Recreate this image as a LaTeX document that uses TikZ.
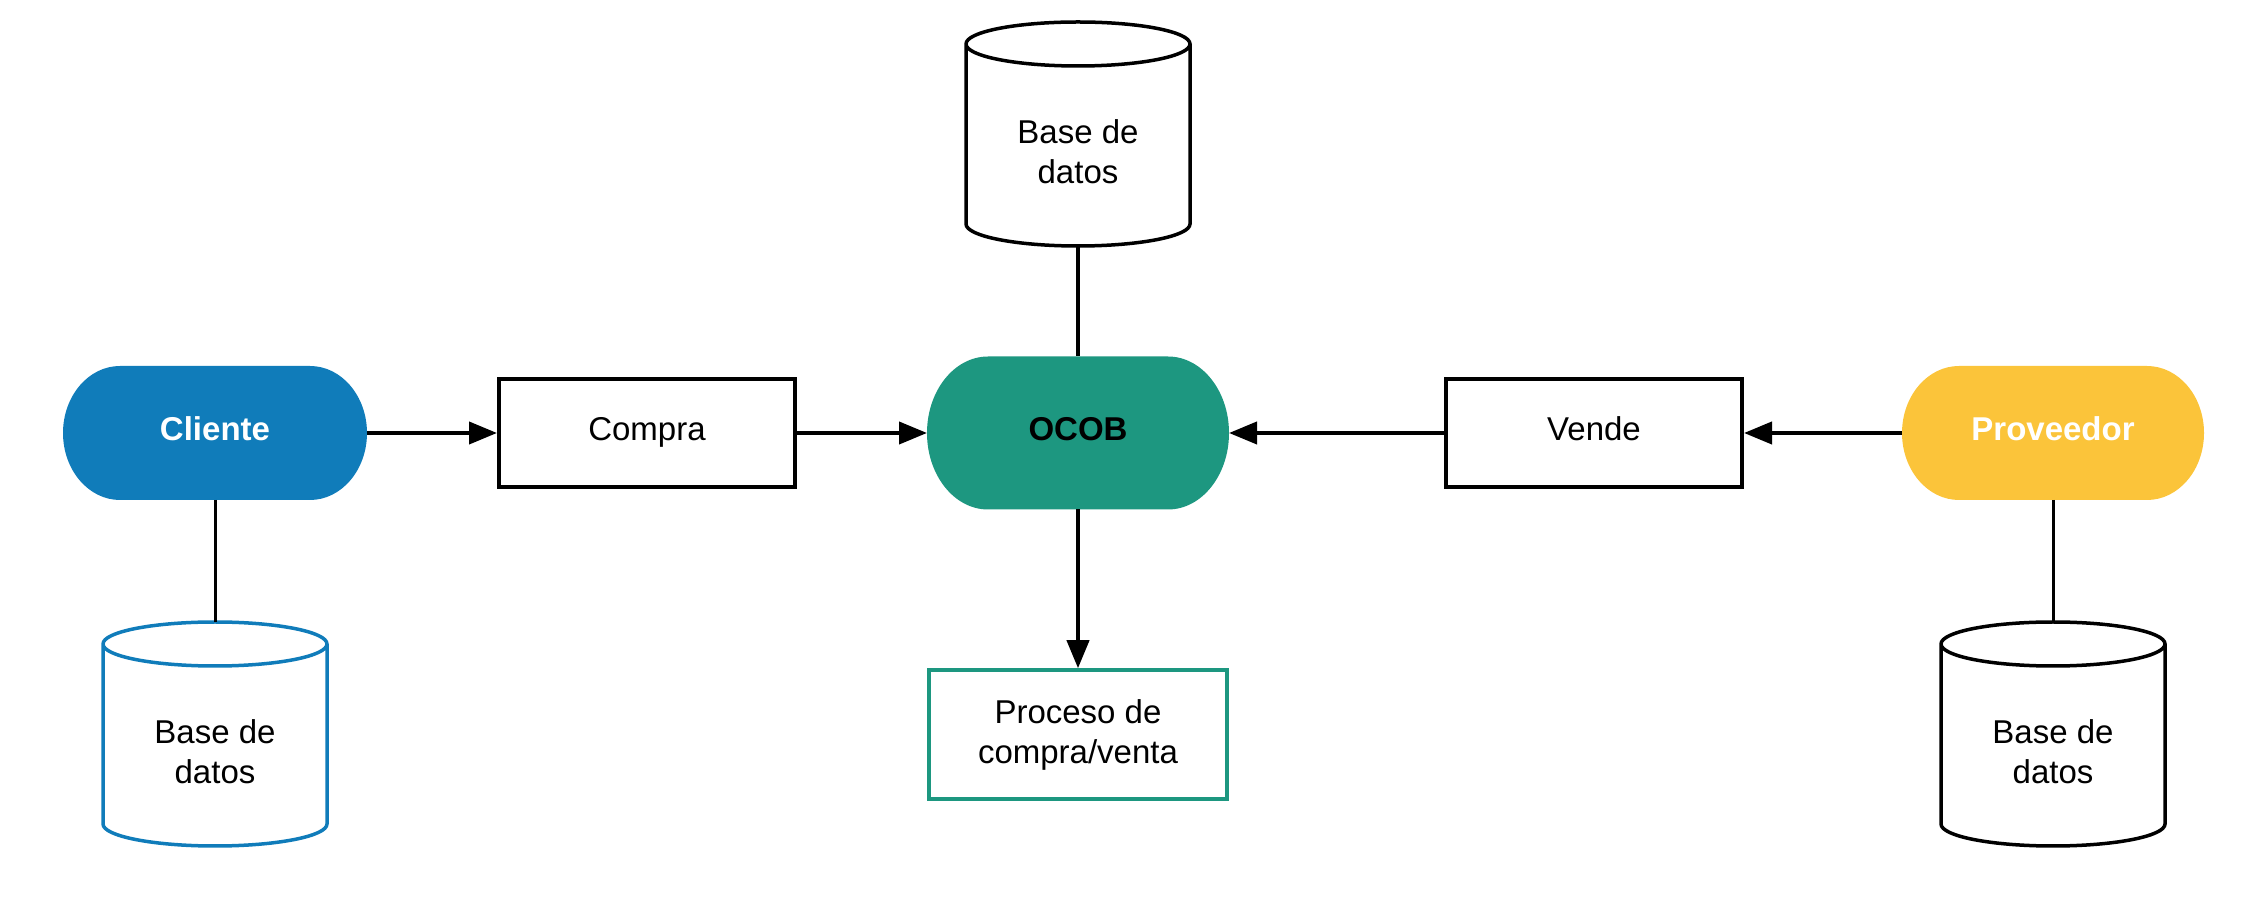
\documentclass[tikz,border=0pt]{standalone}
\usepackage{fontspec}
\setmainfont{Liberation Sans}
\usetikzlibrary{arrows.meta,calc,backgrounds}
\definecolor{cblue}{RGB}{16,124,186}
\definecolor{cgreen}{RGB}{29,151,128}
\definecolor{cyellow}{RGB}{251,196,58}
\newcommand{\stadfill}[3]{%
  \begin{scope}[on background layer]
  \fill[#2] let \p1=(#1.south west), \p2=(#1.north east), \n1={(\y2-\y1)/2} in
    (\x1+#3pt,\y2) -- (\x2-#3pt,\y2)
    arc[start angle=90,end angle=-90,x radius=#3pt,y radius=\n1]
    -- (\x1+#3pt,\y1)
    arc[start angle=270,end angle=90,x radius=#3pt,y radius=\n1] -- cycle;
  \end{scope}}
\newcommand{\dbdraw}[2]{%
  \draw[#2, line width=3.5pt] let \p1=(#1.south west), \p2=(#1.north east), \n1={(\x2-\x1)/2} in
    (\x1,\y2-22pt) arc[start angle=180,end angle=360,x radius=\n1,y radius=22pt]
    arc[start angle=0,end angle=180,x radius=\n1,y radius=22pt]
    -- (\x1,\y1+22pt) arc[start angle=180,end angle=360,x radius=\n1,y radius=22pt]
    -- (\x2,\y2-22pt);}
\begin{document}
\begin{tikzpicture}[x=1pt,y=1pt,
  every node/.style={inner sep=0pt, outer sep=0pt, font=\fontsize{33}{40}\selectfont, align=center},
  stadnode/.style={rectangle, minimum width=304pt, minimum height=134pt, text height=24pt, text depth=8pt, font=\fontsize{33}{40}\selectfont\bfseries},
  boxnode/.style={rectangle, draw=black, line width=4pt, outer sep=2pt, minimum width=296pt, minimum height=108pt, text height=24pt, text depth=8pt},
  procnode/.style={rectangle, draw=cgreen, line width=3.5pt, outer sep=1.75pt, minimum width=298pt, minimum height=129pt},
  dbnode/.style={rectangle, minimum width=224pt, minimum height=224pt},
  conn/.style={line width=4pt, -{Triangle[length=28pt,width=22pt]}},
  link/.style={line width=3pt}]
\useasboundingbox (0,0) rectangle (2257,913);
\node[stadnode, text=white] (cli) at (215,480) {Cliente};
\node[boxnode] (com) at (647,480) {Compra};
\node[stadnode, minimum height=153pt, minimum width=302pt] (ocob) at (1078,480) {OCOB};
\node[boxnode] (ven) at (1594,480) {Vende};
\node[stadnode, text=white, minimum width=302pt] (pro) at (2053,480) {Proveedor};
\node[dbnode] (dbT) at (1078,779) {};
\node[dbnode] (dbL) at (215,179) {};
\node[dbnode] (dbR) at (2053,179) {};
\node[procnode] (proc) at (1078,178.5) {Proceso de\\compra/venta};
\node (tT) at ($(dbT.center)+(0,-18)$) {Base de\\datos};
\node (tL) at ($(dbL.center)+(0,-18)$) {Base de\\datos};
\node (tR) at ($(dbR.center)+(0,-18)$) {Base de\\datos};
\stadfill{cli}{cblue}{57}
\stadfill{ocob}{cgreen}{61}
\stadfill{pro}{cyellow}{57}
\dbdraw{dbT}{black}
\dbdraw{dbL}{cblue}
\dbdraw{dbR}{black}
\draw[conn] (cli.east) -- (com.west);
\draw[conn] (com.east) -- (ocob.west);
\draw[conn] (ven.west) -- (ocob.east);
\draw[conn] (pro.west) -- (ven.east);
\draw[conn] (ocob.south) -- (proc.north);
\draw[link, line width=4pt] (dbT.south) -- (ocob.north);
\draw[link] (cli.south) -- (dbL.north);
\draw[link] (pro.south) -- (dbR.north);
\end{tikzpicture}
\end{document}
